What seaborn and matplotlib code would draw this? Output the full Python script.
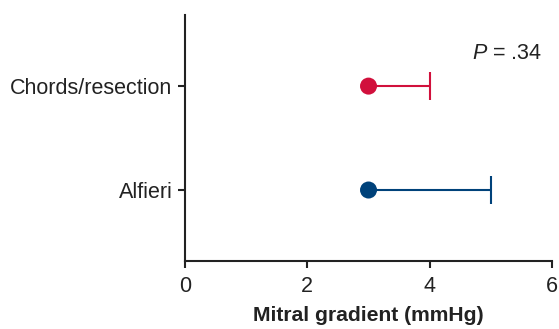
import matplotlib
matplotlib.use("Agg")
import matplotlib.pyplot as plt
import seaborn as sns
import pandas as pd

categories = ["Alfieri", "Chords/resection"]
medians = [3.0, 3.0]
upper = [5.0, 4.0]
colors = ["#00427A", "#D1103C"]
xticks = [0, 2, 4, 6]
p_text = "$\\it{P}$ = .34"

sns.set_style("ticks")
plt.rcParams['font.family'] = ['Liberation Sans', 'DejaVu Sans']
plt.rcParams['mathtext.fontset'] = 'custom'
plt.rcParams['mathtext.it'] = 'Liberation Sans:italic'
plt.rcParams['mathtext.rm'] = 'Liberation Sans'

df = pd.DataFrame({"group": categories, "pos": range(len(categories)),
                   "median": medians, "upper": upper})

fig = plt.figure(figsize=(5.59, 3.29), dpi=100)
ax = fig.add_axes([0.331, 0.2067, 0.9875 - 0.331, 0.954 - 0.2067])

for i, row in df.iterrows():
    _, caps, _ = ax.errorbar(row["median"], row["pos"],
                             xerr=[[0], [row["upper"] - row["median"]]],
                             fmt="none", ecolor=colors[i], elinewidth=1.5,
                             capsize=10, capthick=1.5, zorder=2)
    if len(caps) > 1:
        caps[0].set_visible(False)

sns.scatterplot(data=df, x="median", y="pos", hue="group",
                palette=dict(zip(categories, colors)), s=150,
                edgecolor="none", legend=False, ax=ax, zorder=3)

fs = 15.5
ax.set_xlim(0, 6)
ax.set_ylim(-0.683, 1.683)
ax.set_xticks(xticks)
ax.set_xticklabels([str(t) for t in xticks], fontsize=fs)
ax.set_yticks(df["pos"])
ax.set_yticklabels(categories, fontsize=fs)
ax.set_xlabel("Mitral gradient (mmHg)", fontsize=15.2, fontweight="bold", labelpad=6.5)
ax.set_ylabel("")
ax.text(4.69, 1.317, p_text, fontsize=fs, va="center", ha="left", color="#222222")

for s in ["top", "right"]:
    ax.spines[s].set_visible(False)
for s in ["left", "bottom"]:
    ax.spines[s].set_linewidth(1.5)
    ax.spines[s].set_color("#222222")
ax.tick_params(axis="both", width=1.5, length=5, color="#222222", labelcolor="#222222")
ax.tick_params(axis="x", pad=6)
ax.tick_params(axis="y", pad=4)
ax.xaxis.label.set_color("#222222")

fig.savefig("out.png", dpi=100)
